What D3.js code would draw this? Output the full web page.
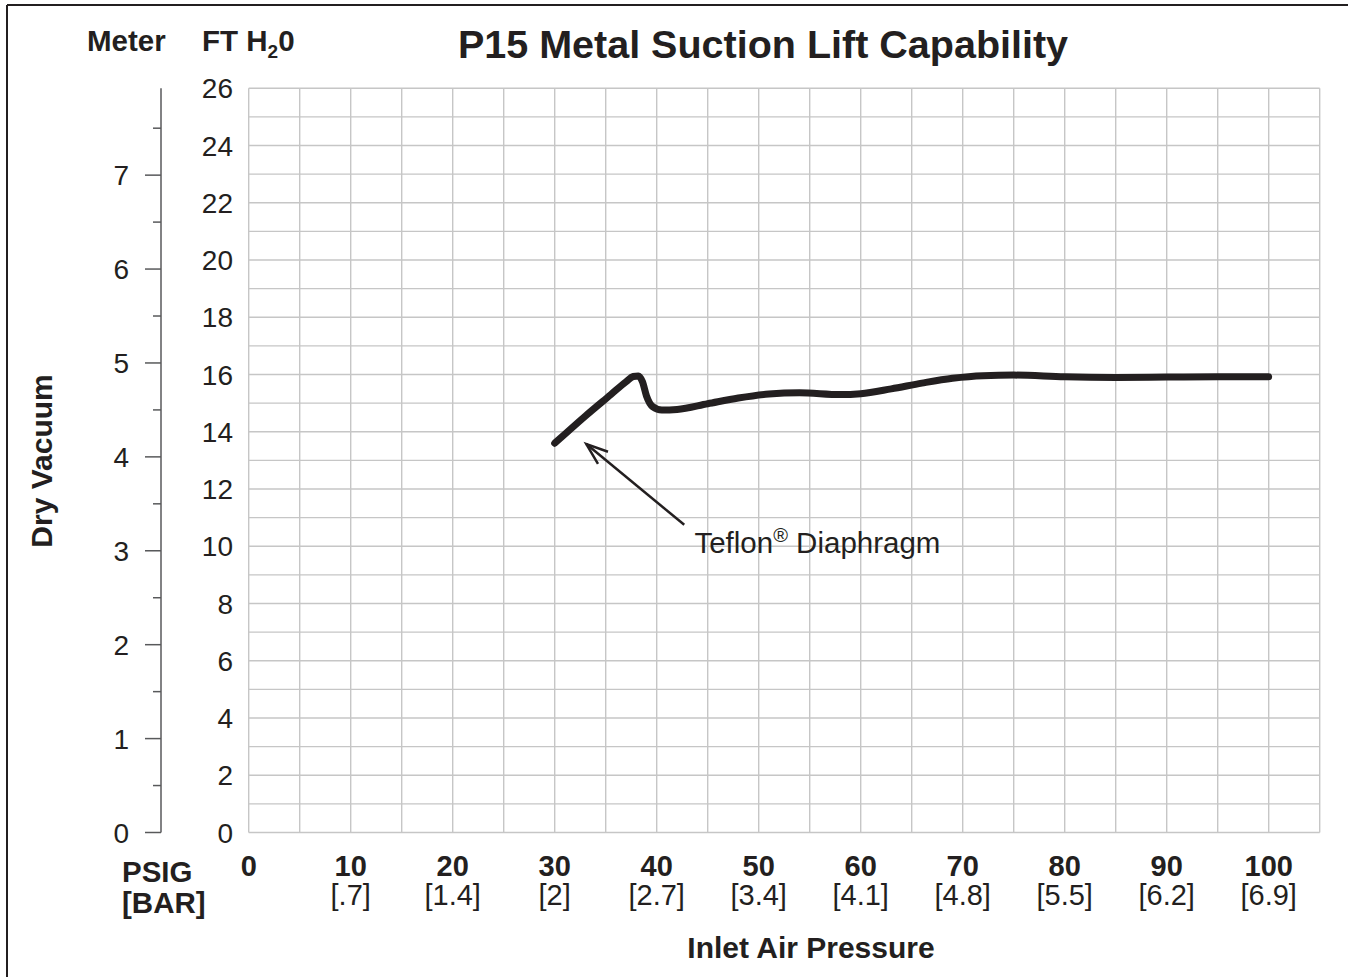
<!DOCTYPE html>
<html>
<head>
<meta charset="utf-8">
<script src="https://cdn.jsdelivr.net/npm/d3@7"></script>
<style>
  html, body { margin: 0; padding: 0; background: #fff; }
  svg text { font-family: "Liberation Sans", Arial, Helvetica, sans-serif; fill: #231f20; }
</style>
</head>
<body>
<svg id="chart" width="1348" height="977"></svg>
<script>
  // inlet air pressure (psig) and dry vacuum (ft H2O)
  const psig = [30, 33, 35.5, 37.0, 37.7, 38.2, 38.6, 39.0, 39.6, 40.5, 42, 45, 48, 51, 54, 58, 60, 63, 66, 69, 72, 75, 80, 85, 90, 95, 100];
  const ftH2O = [13.6, 14.55, 15.3, 15.75, 15.93, 15.95, 15.75, 15.25, 14.88, 14.76, 14.78, 14.98, 15.18, 15.32, 15.36, 15.3, 15.33, 15.5, 15.7, 15.87, 15.96, 15.98, 15.92, 15.9, 15.91, 15.92, 15.92];

  const psigTicks = [0, 10, 20, 30, 40, 50, 60, 70, 80, 90, 100];
  const barLabels = ['', '[.7]', '[1.4]', '[2]', '[2.7]', '[3.4]', '[4.1]', '[4.8]', '[5.5]', '[6.2]', '[6.9]'];
  const ftTicks = [0, 2, 4, 6, 8, 10, 12, 14, 16, 18, 20, 22, 24, 26];
  const meterTicks = [0, 1, 2, 3, 4, 5, 6, 7];

  const FT_PER_M = 3.28084;
  const INK = '#231f20';
  const GRID = '#c6c6c6';

  const svg = d3.select('#chart');

  const x = d3.scaleLinear().domain([0, 105]).range([248.7, 1319.7]);
  const y = d3.scaleLinear().domain([0, 26]).range([832.5, 88.3]);

  // frame (only top and left edge visible)
  svg.append('line').attr('x1', 7).attr('x2', 1348).attr('y1', 5).attr('y2', 5)
    .attr('stroke', INK).attr('stroke-width', 2);
  svg.append('line').attr('x1', 7).attr('x2', 7).attr('y1', 5).attr('y2', 977)
    .attr('stroke', INK).attr('stroke-width', 2);

  // grid
  const grid = svg.append('g').attr('class', 'grid');
  grid.selectAll('line.h')
    .data(d3.range(0, 27, 1))
    .join('line')
    .attr('class', 'h')
    .attr('x1', x(0)).attr('x2', x(105))
    .attr('y1', d => y(d)).attr('y2', d => y(d))
    .attr('stroke', GRID).attr('stroke-width', 1.4);
  grid.selectAll('line.v')
    .data(d3.range(0, 106, 5))
    .join('line')
    .attr('class', 'v')
    .attr('x1', d => x(d)).attr('x2', d => x(d))
    .attr('y1', y(0)).attr('y2', y(26))
    .attr('stroke', GRID).attr('stroke-width', 1.4);

  // ft tick labels
  svg.append('g').selectAll('text')
    .data(ftTicks)
    .join('text')
    .attr('x', 233)
    .attr('y', d => y(d) + 10)
    .attr('text-anchor', 'end')
    .attr('font-size', 28)
    .text(d => d);

  // meter axis
  const meterAxis = svg.append('g');
  meterAxis.append('line')
    .attr('x1', 161).attr('x2', 161)
    .attr('y1', y(0)).attr('y2', y(26))
    .attr('stroke', '#58595b').attr('stroke-width', 1.5);
  meterAxis.selectAll('line.major')
    .data(meterTicks)
    .join('line')
    .attr('class', 'major')
    .attr('x1', 145).attr('x2', 161)
    .attr('y1', d => y(d * FT_PER_M)).attr('y2', d => y(d * FT_PER_M))
    .attr('stroke', '#58595b').attr('stroke-width', 1.5);
  meterAxis.selectAll('line.minor')
    .data(meterTicks.map(d => d + 0.5))
    .join('line')
    .attr('class', 'minor')
    .attr('x1', 153).attr('x2', 161)
    .attr('y1', d => y(d * FT_PER_M)).attr('y2', d => y(d * FT_PER_M))
    .attr('stroke', '#58595b').attr('stroke-width', 1.5);
  meterAxis.selectAll('text')
    .data(meterTicks)
    .join('text')
    .attr('x', 129)
    .attr('y', d => y(d * FT_PER_M) + 10)
    .attr('text-anchor', 'end')
    .attr('font-size', 28)
    .text(d => d);

  // x tick labels
  const xl = svg.append('g');
  xl.selectAll('text.psig')
    .data(psigTicks)
    .join('text')
    .attr('class', 'psig')
    .attr('x', d => x(d))
    .attr('y', 876)
    .attr('text-anchor', 'middle')
    .attr('font-size', 29)
    .attr('font-weight', 'bold')
    .text(d => d);
  xl.selectAll('text.bar')
    .data(psigTicks)
    .join('text')
    .attr('class', 'bar')
    .attr('x', d => x(d))
    .attr('y', 905)
    .attr('text-anchor', 'middle')
    .attr('font-size', 29)
    .text((d, i) => barLabels[i]);

  // unit labels
  svg.append('text').attr('x', 122).attr('y', 882).attr('font-size', 29.5).attr('font-weight', 'bold').text('PSIG');
  svg.append('text').attr('x', 122).attr('y', 913).attr('font-size', 29.5).attr('font-weight', 'bold').text('[BAR]');
  svg.append('text').attr('x', 87).attr('y', 51).attr('font-size', 29.5).attr('font-weight', 'bold').text('Meter');
  const ft = svg.append('text').attr('x', 202).attr('y', 51).attr('font-size', 29.5).attr('font-weight', 'bold');
  ft.append('tspan').text('FT H');
  ft.append('tspan').attr('font-size', 19).attr('dy', 7).text('2');
  ft.append('tspan').attr('dy', -7).text('0');

  // titles
  svg.append('text')
    .attr('x', 763).attr('y', 58)
    .attr('text-anchor', 'middle')
    .attr('font-size', 39.5)
    .attr('font-weight', 'bold')
    .text('P15 Metal Suction Lift Capability');
  svg.append('text')
    .attr('x', 811).attr('y', 958)
    .attr('text-anchor', 'middle')
    .attr('font-size', 30)
    .attr('font-weight', 'bold')
    .text('Inlet Air Pressure');
  svg.append('text')
    .attr('transform', 'translate(52,461) rotate(-90)')
    .attr('text-anchor', 'middle')
    .attr('font-size', 30)
    .attr('font-weight', 'bold')
    .text('Dry Vacuum');

  // curve
  const pts = psig.map((p, i) => [p, ftH2O[i]]);
  const line = d3.line()
    .x(d => x(d[0]))
    .y(d => y(d[1]))
    .curve(d3.curveMonotoneX);
  svg.append('path')
    .datum(pts)
    .attr('d', line)
    .attr('fill', 'none')
    .attr('stroke', INK)
    .attr('stroke-width', 7)
    .attr('stroke-linecap', 'round')
    .attr('stroke-linejoin', 'round');

  // annotation arrow
  const tip = [x(33.1), y(13.57)];
  const tail = [x(42.7), y(10.75)];
  const ang = Math.atan2(tail[1] - tip[1], tail[0] - tip[0]);
  const wing = 23, spread = 20 * Math.PI / 180;
  const arrow = svg.append('g')
    .attr('fill', 'none')
    .attr('stroke', INK)
    .attr('stroke-width', 2.5);
  arrow.append('line')
    .attr('x1', tail[0]).attr('y1', tail[1])
    .attr('x2', tip[0]).attr('y2', tip[1]);
  arrow.append('path')
    .attr('d', `M${tip[0] + wing * Math.cos(ang - spread)},${tip[1] + wing * Math.sin(ang - spread)}` +
      `L${tip[0]},${tip[1]}` +
      `L${tip[0] + wing * Math.cos(ang + spread)},${tip[1] + wing * Math.sin(ang + spread)}`);

  const note = svg.append('text')
    .attr('x', x(43.7)).attr('y', 553)
    .attr('font-size', 29.5);
  note.append('tspan').text('Teflon');
  note.append('tspan').attr('font-size', 20).attr('dy', -11).text('®');
  note.append('tspan').attr('dy', 11).text(' Diaphragm');
</script>
</body>
</html>
